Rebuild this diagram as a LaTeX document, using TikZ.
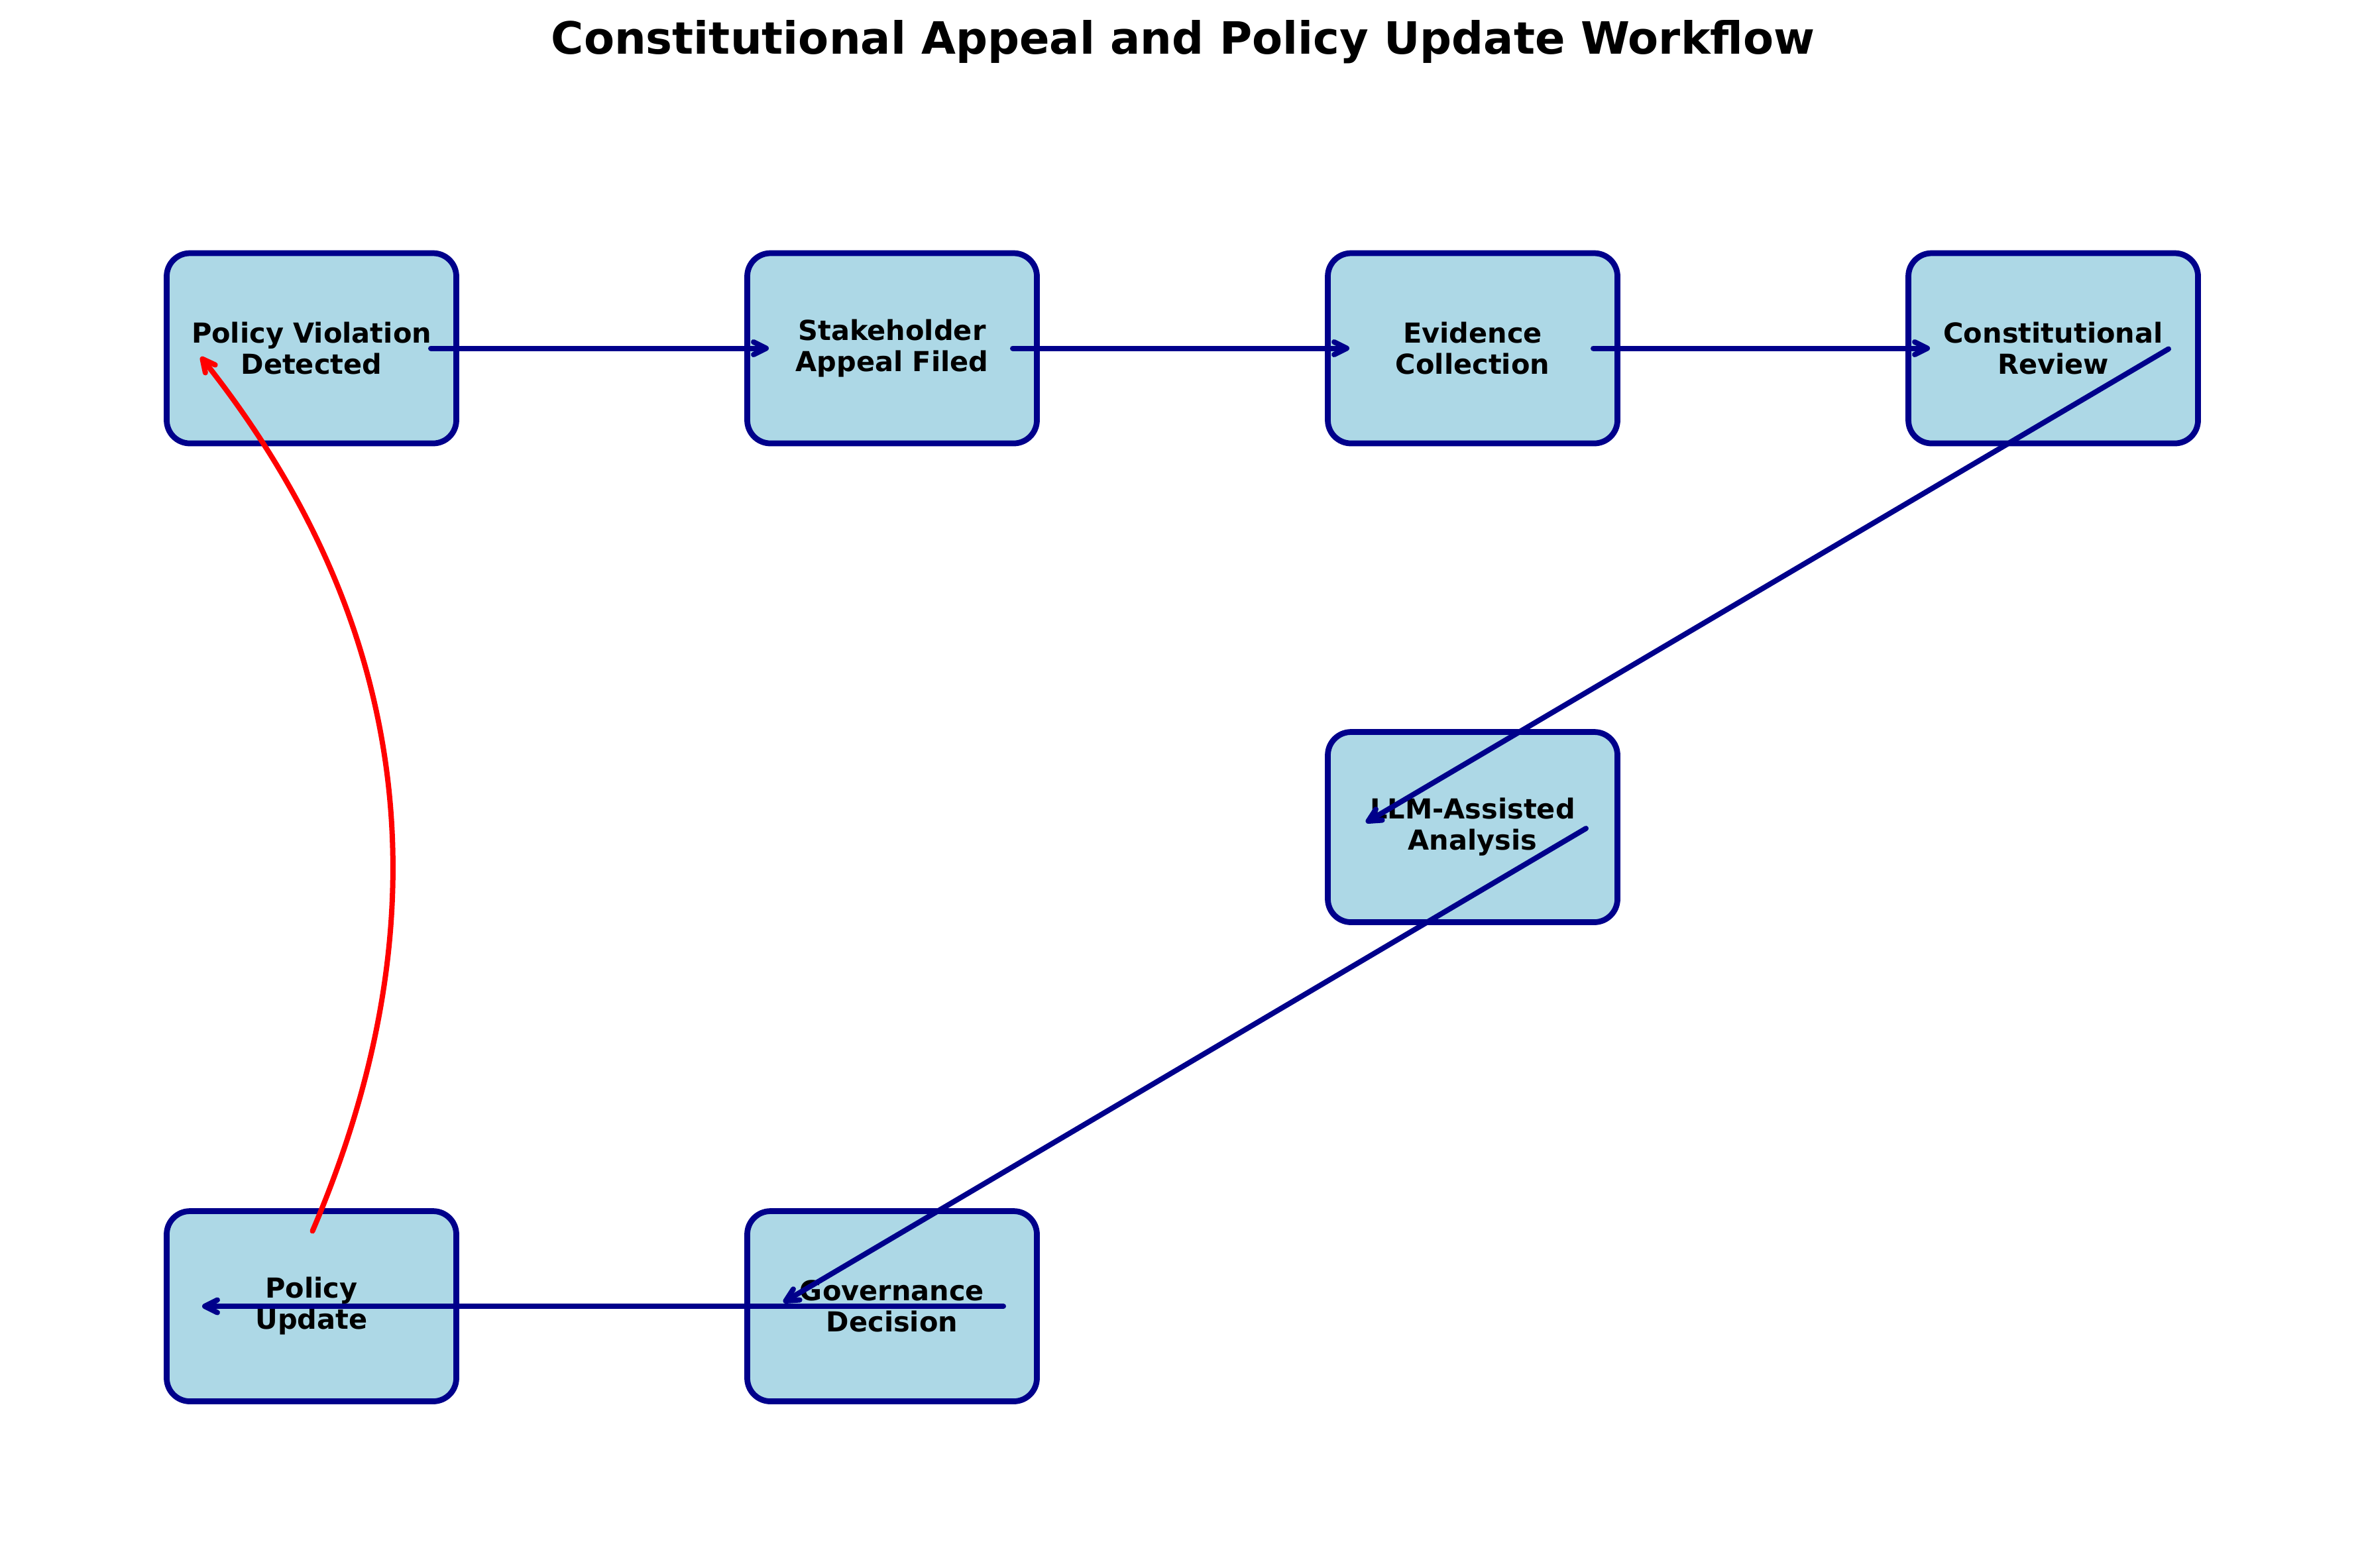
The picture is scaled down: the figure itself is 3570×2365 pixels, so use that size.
\documentclass[tikz,border=0pt]{standalone}
\usepackage{fontspec}
\setmainfont{DejaVu Sans}
\usetikzlibrary{arrows.meta,calc}
\definecolor{boxfill}{HTML}{ADD8E6}
\definecolor{boxdraw}{HTML}{00008B}
\definecolor{loopred}{HTML}{FF0000}
\begin{document}
\begin{tikzpicture}[x=0.2pt,y=-0.2pt,
  stepbox/.style={draw=boxdraw, fill=boxfill, line width=1.75pt, rounded corners=7pt,
    minimum width=87.4pt, minimum height=57.4pt, inner sep=0pt, outer sep=0pt,
    align=center, font=\fontsize{8.3}{9.4}\selectfont\bfseries},
  flow/.style={draw=boxdraw, line width=1.6pt, line cap=round,
    -{Straight Barb[length=3.8pt,width=3.8pt,round]}},
  loop/.style={draw=loopred, line width=1.6pt, line cap=round,
    -{Straight Barb[length=3.8pt,width=3.8pt,round]}},
  titletext/.style={font=\fontsize{13.42}{16}\selectfont\bfseries, inner sep=0pt, anchor=base}]
\useasboundingbox (0,0) rectangle (3570,2365);
\node[titletext] (title) at (1785,81) {Constitutional Appeal and Policy Update Workflow};
\node[stepbox] (pv)  at (470,525.5)  {Policy Violation\\Detected};
\node[stepbox] (sa)  at (1346,525.5) {Stakeholder\\Appeal Filed};
\node[stepbox] (ec)  at (2222,525.5) {Evidence\\Collection};
\node[stepbox] (cr)  at (3098,525.5) {Constitutional\\Review};
\node[stepbox] (llm) at (2222,1248)  {LLM-Assisted\\Analysis};
\node[stepbox] (gd)  at (1346,1971)  {Governance\\Decision};
\node[stepbox] (pu)  at (470,1971)   {Policy\\Update};
\draw[flow] ($(pv)+(180,0)$) -- ($(sa)+(-186,0)$);
\draw[flow] ($(sa)+(182,0)$) -- ($(ec)+(-186,0)$);
\draw[flow] ($(ec)+(182,0)$) -- ($(cr)+(-186,0)$);
\draw[flow] ($(cr)+(174,1)$) -- ($(llm)+(-161,-7)$);
\draw[flow] ($(llm)+(171,2)$) -- ($(gd)+(-164,-6)$);
\draw[flow] ($(gd)+(168,0)$) -- ($(pu)+(-165,0)$);
\draw[loop] ($(pu)+(1.5,-113.5)$) .. controls (677,1378) and (621,939) .. ($(pv)+(-167,13)$);
\end{tikzpicture}
\end{document}
